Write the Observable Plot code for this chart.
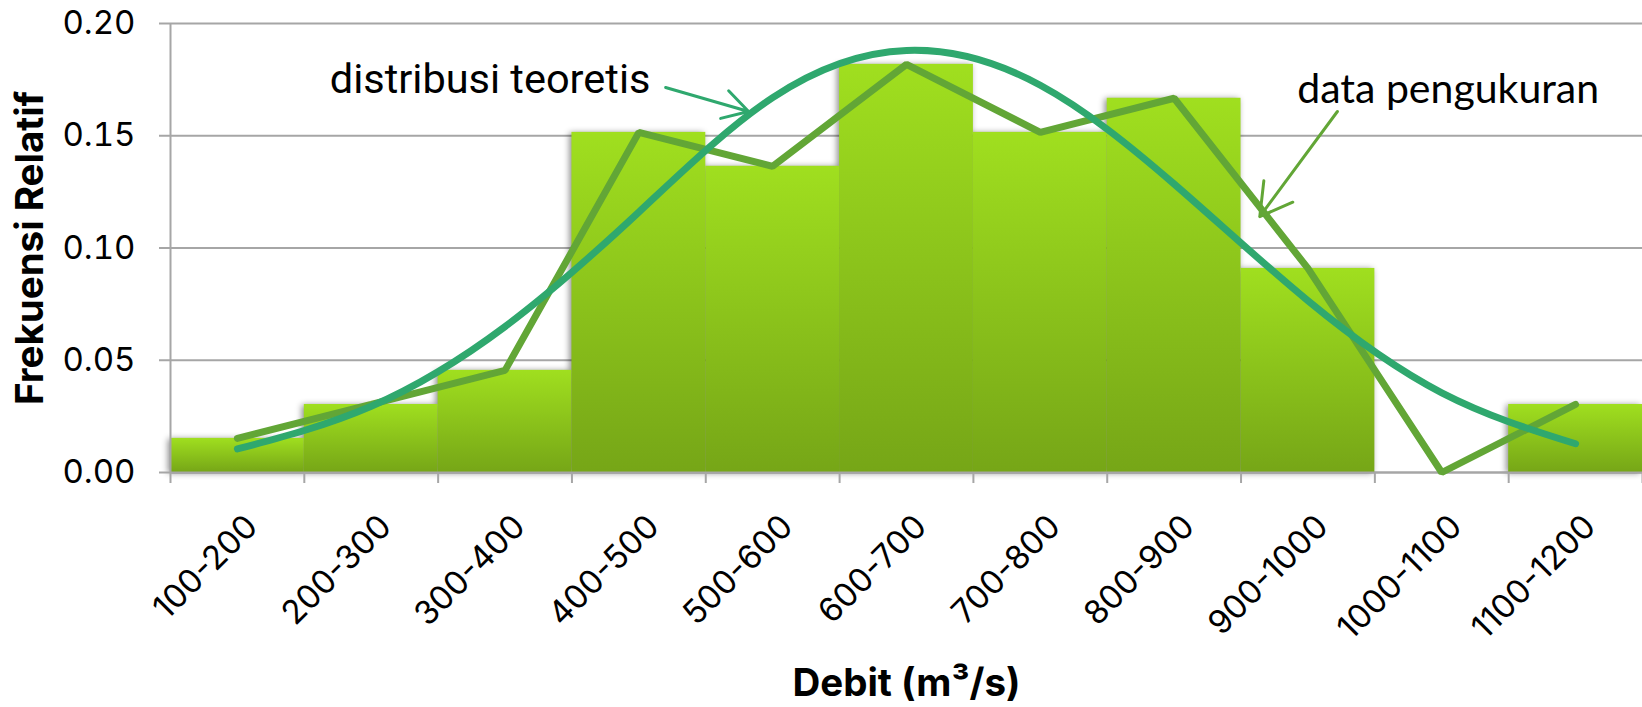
<!DOCTYPE html>
<html>
<head>
<meta charset="utf-8">
<script src="https://cdn.jsdelivr.net/npm/d3@7"></script>
<script src="https://cdn.jsdelivr.net/npm/@observablehq/plot@0.6"></script>
<style>
  html, body { margin: 0; padding: 0; background: #fff; }
  .bars { filter: drop-shadow(-2px 1px 3px rgba(0,0,0,0.45)); }
</style>
</head>
<body>
<div id="chart"></div>
<script>
// ---- data ----
const categories = ["100-200","200-300","300-400","400-500","500-600","600-700","700-800","800-900","900-1000","1000-1100","1100-1200"];
const relFreq   = [0.0152, 0.0303, 0.0455, 0.1515, 0.1364, 0.1818, 0.1515, 0.1667, 0.0909, 0.0, 0.0303];
const theory    = [0.0105, 0.0295, 0.0650, 0.1160, 0.1670, 0.1880, 0.1725, 0.1285, 0.0765, 0.0355, 0.0128];
const yTicks    = [0, 0.05, 0.10, 0.15, 0.20];
const xEdges    = [100,200,300,400,500,600,700,800,900,1000,1100,1200];
const noteTheory = [{text: "distribusi teoretis", x: 219, y: 0.169, x1: 470, y1: 0.1715, x2: 532, y2: 0.1608}];
const noteData   = [{text: "data pengukuran",     x: 942, y: 0.1648, x1: 972, y1: 0.1608, x2: 914, y2: 0.1140}];

const table = categories.map((c, i) => {
  const [lo, hi] = c.split("-").map(Number);
  return {c, lo, hi, mid: (lo + hi) / 2, f: relFreq[i], t: theory[i]};
});

const gray = "#a6a6a6";
const cTheory = "#2fa86e";
const cData = "#62a636";
const defs = () => {
  const ns = "http://www.w3.org/2000/svg";
  const d = document.createElementNS(ns, "defs");
  d.innerHTML = `<linearGradient id="barGrad" x1="0" y1="0" x2="0" y2="1">
      <stop offset="0" stop-color="#a0df1f"/>
      <stop offset="1" stop-color="#76a617"/>
    </linearGradient>`;
  return d;
};

const chart = Plot.plot({
  width: 1642,
  height: 707,
  marginLeft: 170,
  marginRight: 0,
  marginTop: 23,
  marginBottom: 235,
  style: {fontFamily: "Inter, 'Liberation Sans', sans-serif", background: "#fff"},
  x: {type: "linear", domain: [100, 1200]},
  y: {domain: [0, 0.2]},
  marks: [
    defs,
    Plot.ruleY(yTicks, {stroke: gray, strokeWidth: 2}),
    Plot.rectY(table, {x1: "lo", x2: "hi", y: "f", fill: "url(#barGrad)", className: "bars"}),
    Plot.ruleX([100], {stroke: gray, strokeWidth: 2}),
    Plot.ruleY([0], {stroke: gray, strokeWidth: 2}),
    Plot.axisY({ticks: yTicks, tickFormat: ".2f", tickSize: 11, tickPadding: 24, fontSize: 33,
                stroke: gray, strokeWidth: 2, fill: "black", label: null}),
    Plot.axisX({ticks: xEdges, tickFormat: () => "", tickSize: 11, stroke: gray, strokeWidth: 2, label: null}),
    Plot.text(table, {x: "mid", text: "c", frameAnchor: "bottom", rotate: -45, textAnchor: "end",
                      lineAnchor: "bottom", dx: 22, dy: 56, fontSize: 33, fill: "black"}),
    Plot.line(table, {x: "mid", y: "f", stroke: cData, strokeWidth: 7, strokeLinecap: "round", strokeLinejoin: "miter"}),
    Plot.line(table, {x: "mid", y: "t", stroke: cTheory, strokeWidth: 7, strokeLinecap: "round", curve: "natural"}),
    Plot.text(noteTheory, {x: "x", y: "y", text: "text", fontFamily: "Roboto", fontSize: 41.5, textAnchor: "start",
                      lineAnchor: "bottom", fill: "black"}),
    Plot.text(noteData, {x: "x", y: "y", text: "text", fontFamily: "Lato", fontSize: 41, textAnchor: "start",
                      lineAnchor: "bottom", fill: "black"}),
    Plot.arrow(noteTheory, {x1: "x1", y1: "y1", x2: "x2", y2: "y2", stroke: cTheory, strokeWidth: 3,
                       headLength: 18, headAngle: 60, bend: 0}),
    Plot.arrow(noteData, {x1: "x1", y1: "y1", x2: "x2", y2: "y2", stroke: cData, strokeWidth: 3,
                       headLength: 18, headAngle: 60, bend: 0}),
    Plot.text(["Frekuensi Relatif"], {frameAnchor: "left", dx: -140, rotate: -90, fontSize: 38.5,
                                      fontWeight: "bold", textAnchor: "middle", lineAnchor: "middle", fill: "black"}),
    Plot.text(["Debit (m³/s)"], {frameAnchor: "bottom", dy: 223, fontSize: 38.5, fontWeight: "bold",
                                textAnchor: "middle", lineAnchor: "bottom", fill: "black"})
  ]
});
document.getElementById("chart").appendChild(chart);
</script>
</body>
</html>
